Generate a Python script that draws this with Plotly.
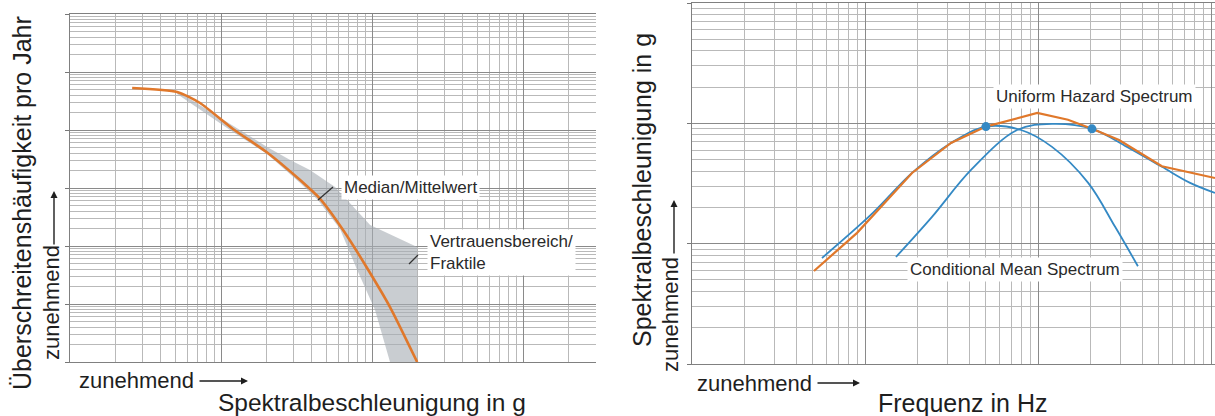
import plotly.graph_objects as go

# ---- Left panel: seismic hazard curve (exceedance frequency vs. spectral acceleration)
sa_median = [0.00258, 0.00512, 0.00726, 0.0120, 0.0202, 0.0334, 0.0453, 0.0643, 0.0927, 0.1315, 0.199]
hz_median = [5.3e-3, 4.52e-3, 2.92e-3, 1.04e-3, 4.1e-4, 1.37e-4, 6.5e-5, 1.89e-5, 4.18e-6, 8.87e-7, 1.0e-7]

# upper fractile (right edge of the confidence band), top to bottom
sa_upper = [0.00512, 0.0120, 0.0202, 0.0287, 0.0388, 0.0569, 0.0971, 0.199, 0.199]
hz_upper = [4.7e-3, 1.17e-3, 5.1e-4, 3.04e-4, 2.04e-4, 1.04e-4, 2.3e-5, 9.6e-6, 1.0e-7]

# lower fractile (left edge of the confidence band), top to bottom
sa_lower = [0.00512, 0.0120, 0.0202, 0.0334, 0.0438, 0.0614, 0.0796, 0.1047, 0.1315]
hz_lower = [4.18e-3, 9.2e-4, 3.86e-4, 1.22e-4, 6.2e-5, 1.96e-5, 3.9e-6, 7.9e-7, 1.0e-7]

# ---- Right panel: Uniform Hazard Spectrum and two Conditional Mean Spectra
uhs_f = [0.507, 0.90, 1.87, 3.14, 5.0, 9.9, 14.9, 20.5, 29.4, 52.0, 105.4]
uhs_sa = [0.0593, 0.123, 0.387, 0.687, 0.94, 1.22, 1.07, 0.90, 0.727, 0.44, 0.351]

cms1_f = [0.564, 1.11, 1.87, 3.14, 5.0, 7.98, 12.05, 19.5, 27.9, 37.8]
cms1_sa = [0.076, 0.18, 0.387, 0.687, 0.94, 0.88, 0.637, 0.32, 0.138, 0.065]

cms2_f = [1.51, 2.44, 4.10, 7.57, 12.05, 20.5, 32.7, 52.1, 75.7, 105.4]
cms2_sa = [0.0775, 0.167, 0.41, 0.88, 0.99, 0.90, 0.637, 0.435, 0.32, 0.264]

cond_f = [5.0, 20.5]
cond_sa = [0.94, 0.90]

W, H = 1215, 416
FONT = "Liberation Sans, Arial, sans-serif"
ORANGE = "#e0782b"
BLUE = "#3489c4"
TXT = "#1e1e1e"


def px(x):
    return x / W


def py(y):
    return 1 - y / H


fig = go.Figure()

# confidence band as a closed polygon
fig.add_trace(go.Scatter(
    x=sa_upper + sa_lower[::-1], y=hz_upper + hz_lower[::-1],
    fill="toself", fillcolor="rgba(168,174,180,0.62)", line=dict(width=0),
    mode="lines", hoverinfo="skip", xaxis="x", yaxis="y", showlegend=False))
fig.add_trace(go.Scatter(
    x=sa_median, y=hz_median, mode="lines",
    line=dict(color=ORANGE, width=2.6, shape="spline", smoothing=0.6),
    xaxis="x", yaxis="y", showlegend=False))

fig.add_trace(go.Scatter(
    x=cms1_f, y=cms1_sa, mode="lines", line=dict(color=BLUE, width=1.8, shape="spline"),
    xaxis="x2", yaxis="y2", showlegend=False))
fig.add_trace(go.Scatter(
    x=cms2_f, y=cms2_sa, mode="lines", line=dict(color=BLUE, width=1.8, shape="spline"),
    xaxis="x2", yaxis="y2", showlegend=False))
fig.add_trace(go.Scatter(
    x=uhs_f, y=uhs_sa, mode="lines", line=dict(color=ORANGE, width=2.2),
    xaxis="x2", yaxis="y2", showlegend=False))
fig.add_trace(go.Scatter(
    x=cond_f, y=cond_sa, mode="markers", marker=dict(color=BLUE, size=9),
    xaxis="x2", yaxis="y2", showlegend=False))

MAJOR = "#8a8a8a"
MINOR = "#b9b9b9"


def log_axis(domain, rng, anchor, line=True, ticks=""):
    return dict(
        type="log", domain=domain, range=rng, anchor=anchor, dtick=1,
        showticklabels=False, showgrid=True, gridcolor=MAJOR, gridwidth=1,
        zeroline=False, showline=line, linecolor="#808080", linewidth=1,
        ticks=ticks, ticklen=4, tickcolor="#777",
        minor=dict(dtick="D1", showgrid=True, gridcolor=MINOR, gridwidth=1, ticks=""),
    )


fig.update_layout(
    width=W, height=H, margin=dict(l=0, r=0, t=0, b=0),
    paper_bgcolor="white", plot_bgcolor="white",
    font=dict(family=FONT, color=TXT),
    xaxis=log_axis([px(70), px(596)], [-3, 0.483], "y"),
    yaxis=log_axis([py(362), py(14)], [-7, -1], "x", ticks="outside"),
    xaxis2=log_axis([px(692), 1.0], [-1, 2.023], "y2"),
    yaxis2=log_axis([py(364), py(3)], [-2, 1], "x2", ticks="outside"),
)
fig.layout.xaxis.mirror = True
fig.layout.xaxis2.mirror = True

ann = []


def label(text, x, y, size, xanchor="left", angle=0, bg=None, color=TXT):
    d = dict(text=text, x=px(x), y=py(y), xref="paper", yref="paper",
             xanchor=xanchor, yanchor="middle", showarrow=False, textangle=angle,
             font=dict(family=FONT, size=size, color=color), align="left")
    if bg:
        d["bgcolor"] = bg
        d["borderpad"] = 2
    ann.append(d)


def arrow(x0, y0, x1, y1):
    ann.append(dict(text="", x=px(x1), y=py(y1), xref="paper", yref="paper",
                    ax=x0 - x1, ay=y0 - y1, showarrow=True, arrowhead=2,
                    arrowsize=1, arrowwidth=1.4, arrowcolor=TXT, standoff=0))


# curve labels
label("Median/Mittelwert", 341, 188, 17, bg="white", color="#2a2a2a")
label("Vertrauensbereich/<br>Fraktile", 427, 253, 17, bg="white", color="#2a2a2a")
label("Uniform Hazard Spectrum", 993, 97, 17, bg="white", color="#2a2a2a")
label("Conditional Mean Spectrum", 907, 269, 17, bg="white", color="#2a2a2a")

# axis titles, left panel
label("Überschreitenshäufigkeit pro Jahr", 22, 203, 25, xanchor="center", angle=-90)
label("zunehmend", 51, 303, 22, xanchor="center", angle=-90)
arrow(54, 246, 54, 191)
label("zunehmend", 77, 380, 22)
arrow(198, 381, 248, 381)
label("Spektralbeschleunigung in g", 372, 402, 24.5, xanchor="center")

# axis titles, right panel
label("Spektralbeschleunigung in g", 642, 190, 25, xanchor="center", angle=-90)
label("zunehmend", 670, 315, 22, xanchor="center", angle=-90)
arrow(674, 255, 674, 200)
label("zunehmend", 695, 383, 22)
arrow(816, 383, 860, 383)
label("Frequenz in Hz", 876, 403, 25)

fig.update_layout(annotations=ann)

# leader lines from the labels to the curves
for (x0, y0, x1, y1) in [(318, 200, 333, 187), (409, 264, 418, 255)]:
    fig.add_shape(type="line", xref="paper", yref="paper",
                  x0=px(x0), y0=py(y0), x1=px(x1), y1=py(y1),
                  line=dict(color="#333", width=1.3))

fig.write_html("out.html")
